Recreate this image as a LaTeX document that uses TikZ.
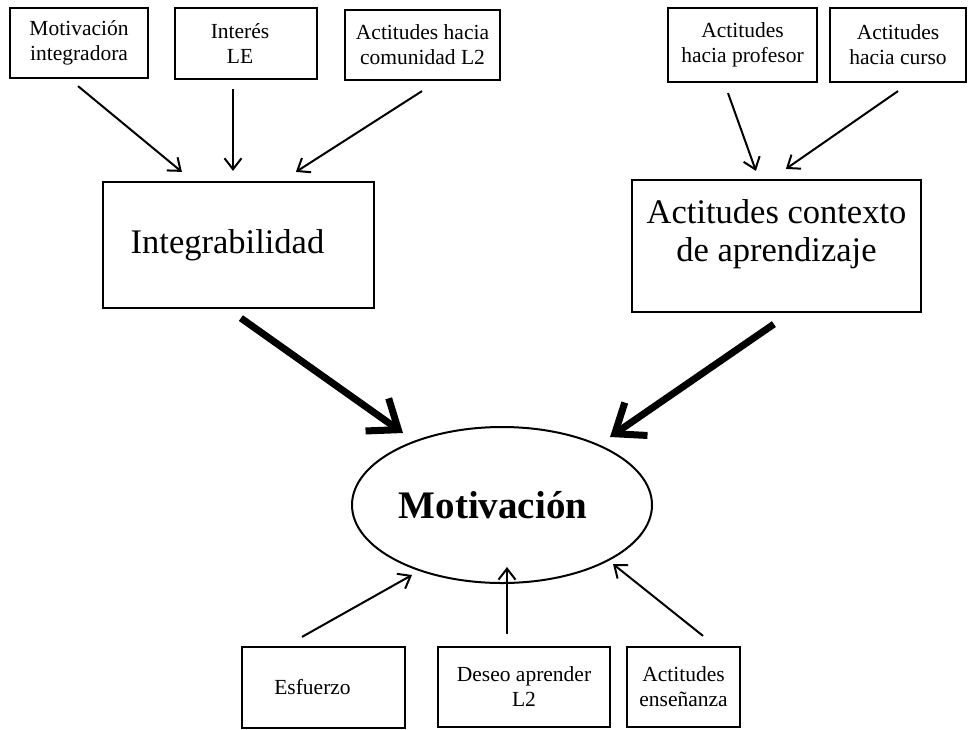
\documentclass[tikz,border=0pt]{standalone}
\usepackage{fontspec}
\setmainfont{Liberation Serif}
\usetikzlibrary{arrows.meta,shapes.geometric,calc}

\tikzset{
  smallbox/.style={draw, line width=2.2pt, rectangle, inner sep=0pt, align=center,
    font=\fontsize{21.5}{25}\selectfont},
  bigbox/.style={draw, line width=2.2pt, rectangle, inner sep=0pt, align=center,
    font=\fontsize{34.5}{38}\selectfont},
  thinarrow/.style={line width=2pt, -{Straight Barb[length=11pt,width=17pt,line width=2pt]}},
  thickarrow/.style={line width=7pt, -{Straight Barb[length=26pt,width=40pt,line width=7pt]}},
}

\begin{document}
\begin{tikzpicture}[x=1pt,y=-1pt]
  \useasboundingbox (0,0) rectangle (968,729);
  \fill[white] (0,0) rectangle (968,729);

  % upper left group
  \node[smallbox, minimum width=138pt, minimum height=70pt] (mi) at (79,43) {Motivación\\integradora};
  \node[smallbox, minimum width=142pt, minimum height=71pt] (ile) at (246,43.5) {\hspace*{-12pt}Interés\\\hspace*{-12pt}LE};
  \node[smallbox, minimum width=155pt, minimum height=70pt] (acom) at (422.5,45) {Actitudes hacia\\comunidad L2};
  \node[bigbox, minimum width=271pt, minimum height=126pt] (integ) at (238.5,245) {\hspace*{-22pt}Integrabilidad};

  % upper right group
  \node[smallbox, minimum width=149pt, minimum height=74pt] (aprof) at (742.5,45) {Actitudes\\hacia profesor};
  \node[smallbox, minimum width=136pt, minimum height=74pt] (acur) at (898,45) {Actitudes\\hacia curso};
  \node[bigbox, minimum width=289pt, minimum height=132pt] (actx) at (776.5,246) {Actitudes contexto\\de aprendizaje\\[-8pt]\mbox{}};

  % central construct
  \node[draw, ellipse, line width=2pt, minimum width=300pt, minimum height=156pt, inner sep=0pt,
        font=\fontsize{39}{44}\bfseries] (mot) at (502,505) {\hspace*{-18pt}Motivación};

  % lower group
  \node[smallbox, minimum width=163pt, minimum height=81pt] (esf) at (323.5,687.5) {\hspace*{-22pt}Esfuerzo};
  \node[smallbox, minimum width=172pt, minimum height=80pt] (deseo) at (524,687) {Deseo aprender\\L2};
  \node[smallbox, minimum width=113pt, minimum height=80pt] (aens) at (683.5,687) {Actitudes\\enseñanza};

  % influences on Integrabilidad
  \draw[thinarrow] ($(mi.south)+(-1,7)$) -- ($(integ.north west)+(80,-9)$);
  \draw[thinarrow] ($(ile.south)+(-13,9)$) -- ($(integ.north)+(-5.5,-10)$);
  \draw[thinarrow] ($(acom.south)+(-0.5,10)$) -- ($(integ.north west)+(194,-9)$);

  % influences on the learning context
  \draw[thinarrow] ($(aprof.south)+(-14.5,10)$) -- ($(actx.north west)+(125,-8)$);
  \draw[thinarrow] ($(acur.south)+(0,8)$) -- ($(actx.north west)+(155,-10)$);

  % main paths
  \draw[thickarrow] ($(integ.south west)+(139,9)$) -- ($(mot.center)+(-99,-72)$);
  \draw[thickarrow] ($(actx.south west)+(143,11)$) -- ($(mot.center)+(108,-68)$);

  % indicators below
  \draw[thinarrow] ($(esf.north)+(-21.5,-9)$) -- ($(mot.center)+(-90,70)$);
  \draw[thinarrow] ($(deseo.north)+(-17,-12)$) -- ($(mot.center)+(5,62)$);
  \draw[thinarrow] ($(aens.north)+(19.5,-10)$) -- ($(mot.center)+(111,59)$);
\end{tikzpicture}
\end{document}
